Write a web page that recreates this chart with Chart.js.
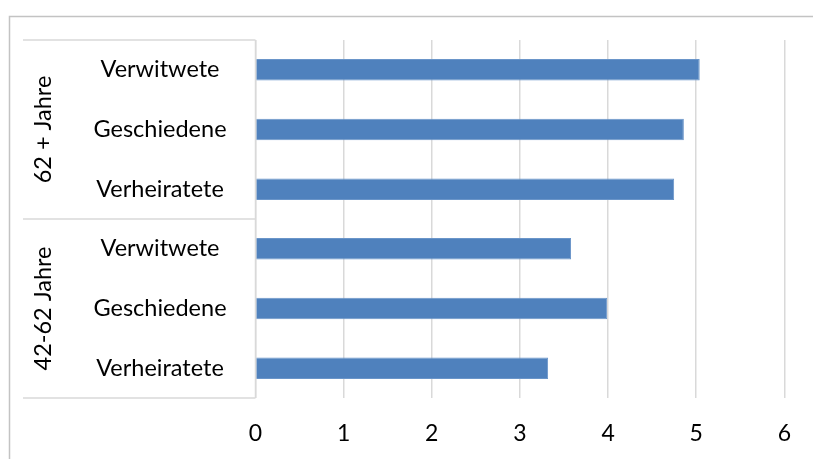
<!DOCTYPE html>
<html>
<head>
<meta charset="utf-8">
<script src="https://cdn.jsdelivr.net/npm/chart.js@4"></script>
<style>
  body { margin: 0; background: #fff; }
  #wrap { width: 813px; height: 459px; position: relative; }
</style>
</head>
<body>
<div id="wrap"><canvas id="barChart"></canvas></div>
<script>
// Data
const subLabels = ['Verwitwete', 'Geschiedene', 'Verheiratete', 'Verwitwete', 'Geschiedene', 'Verheiratete'];
const groupLabels = ['62 + Jahre', '42-62 Jahre'];
const groupSizes = [3, 3];
const values = [5.04, 4.86, 4.75, 3.58, 3.99, 3.32];
const xMin = 0;
const xMax = 6;

const labelFont = '23.5px Lato';
const lineColor = '#d9d9d9';

// Draws the outer frame, the grouped category box and its labels
const groupBoxPlugin = {
    id: 'groupBox',
    beforeDraw(chart) {
        const ctx = chart.ctx;
        ctx.save();
        ctx.strokeStyle = '#c3c3c3';
        ctx.lineWidth = 1.5;
        ctx.beginPath();
        ctx.moveTo(9.5, chart.height);
        ctx.lineTo(9.5, 16.5);
        ctx.lineTo(chart.width, 16.5);
        ctx.stroke();
        ctx.restore();
    },
    afterDraw(chart) {
        const ctx = chart.ctx;
        const area = chart.chartArea;
        const yScale = chart.scales.y;
        const boxLeft = 23;
        const step = yScale.getPixelForValue(1) - yScale.getPixelForValue(0);

        ctx.save();
        ctx.strokeStyle = lineColor;
        ctx.lineWidth = 1.5;

        // horizontal lines at group edges
        let idx = 0;
        const edges = [area.top];
        groupSizes.forEach(n => {
            idx += n;
            edges.push(yScale.getPixelForValue(idx - 1) + step / 2);
        });
        edges.forEach(y => {
            ctx.beginPath();
            ctx.moveTo(boxLeft, y);
            ctx.lineTo(area.left, y);
            ctx.stroke();
        });
        ctx.beginPath();
        ctx.moveTo(area.left, area.top);
        ctx.lineTo(area.left, area.bottom);
        ctx.stroke();

        // sub category labels
        ctx.fillStyle = '#000';
        ctx.font = labelFont;
        ctx.textAlign = 'center';
        ctx.textBaseline = 'middle';
        subLabels.forEach((lab, i) => {
            ctx.fillText(lab, 160, yScale.getPixelForValue(i));
        });

        // group labels, rotated
        for (let g = 0; g < groupLabels.length; g++) {
            const mid = (edges[g] + edges[g + 1]) / 2;
            ctx.save();
            ctx.translate(43, mid);
            ctx.rotate(-Math.PI / 2);
            ctx.fillText(groupLabels[g], 0, 0);
            ctx.restore();
        }
        ctx.restore();
    }
};

const ctx = document.getElementById('barChart').getContext('2d');
new Chart(ctx, {
    type: 'bar',
    data: {
        labels: subLabels,
        datasets: [{
            data: values,
            backgroundColor: '#4f81bd',
            borderColor: '#6a95c9',
            borderWidth: 1,
            barPercentage: 0.36,
            categoryPercentage: 1
        }]
    },
    options: {
        indexAxis: 'y',
        responsive: true,
        maintainAspectRatio: false,
        animation: false,
        layout: { padding: { top: 40, right: 23, bottom: 0, left: 0 } },
        plugins: {
            legend: { display: false },
            tooltip: { enabled: false }
        },
        scales: {
            x: {
                min: xMin,
                max: xMax,
                ticks: {
                    stepSize: 1,
                    color: '#000',
                    padding: 22,
                    font: { family: 'Lato', size: 23 }
                },
                grid: { color: lineColor, lineWidth: 1.5, drawTicks: false },
                border: { display: false },
                afterFit(scale) { scale.height = 61; }
            },
            y: {
                ticks: { display: false },
                grid: { display: false },
                border: { display: false },
                afterFit(scale) { scale.width = 255.5; }
            }
        }
    },
    plugins: [groupBoxPlugin]
});
</script>
</body>
</html>
